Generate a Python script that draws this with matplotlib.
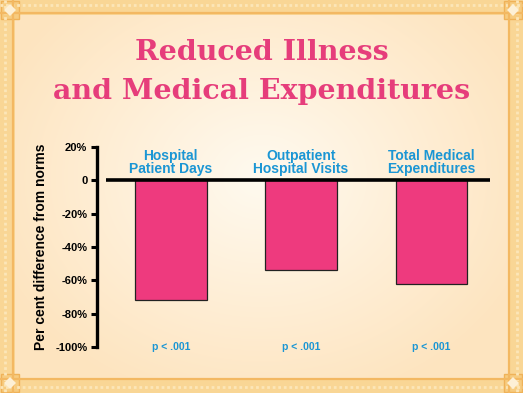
#!/usr/bin/env python3

import matplotlib.pyplot as plt
import numpy as np
from matplotlib.patches import Rectangle

# Data
categories = ["Hospital\nPatient Days", "Outpatient\nHospital Visits", "Total Medical\nExpenditures"]
values = [-72, -54, -62]
p_labels = ["p < .001", "p < .001", "p < .001"]
yticks = [20, 0, -20, -40, -60, -80, -100]
ytick_labels = ["20%", "0", "-20%", "-40%", "-60%", "-80%", "-100%"]

pink = "#ee3a7e"
blue = "#1b96d4"
W, H = 523, 393

fig = plt.figure(figsize=(W / 100, H / 100), dpi=100)

# Background: peach gradient with an orange decorative frame
bg = fig.add_axes([0, 0, 1, 1], zorder=-10)
yy, xx = np.mgrid[0:H, 0:W]
d = np.sqrt(((xx - W * 0.5) / (W * 0.55)) ** 2 + ((yy - H * 0.45) / (H * 0.6)) ** 2)
d = np.clip(d, 0, 1)
c_in = np.array([1.0, 0.98, 0.94])
c_out = np.array([0.995, 0.895, 0.75])
img = c_in[None, None, :] * (1 - d[..., None]) + c_out[None, None, :] * d[..., None]
bg.imshow(img, extent=[0, W, H, 0], aspect="auto")
bg.set_xlim(0, W)
bg.set_ylim(H, 0)
bg.axis("off")

# frame bands
band = "#f9d695"
for r in [(0, 0, W, 15), (0, H - 15, W, 15), (0, 0, 15, H), (W - 15, 0, 15, H)]:
    bg.add_patch(Rectangle((r[0], r[1]), r[2], r[3], color=band, lw=0))
# dotted inner pattern
for pos in [5, H - 6]:
    bg.plot([0, W], [pos, pos], color="#fce6b8", lw=2.0, ls=(0, (1, 1)))
for pos in [5, W - 6]:
    bg.plot([pos, pos], [0, H], color="#fce6b8", lw=2.0, ls=(0, (1, 1)))
for pos in [13, H - 14]:
    bg.plot([0, W], [pos, pos], color="#f3b862", lw=1.6)
for pos in [13, W - 14]:
    bg.plot([pos, pos], [0, H], color="#f3b862", lw=1.6)
# corner tiles
for cx, cy in [(0, 0), (W - 20, 0), (0, H - 20), (W - 20, H - 20)]:
    bg.add_patch(Rectangle((cx + 1, cy + 1), 18, 18, facecolor="#f7cc80",
                           edgecolor="#efb258", lw=1))
    bg.plot(cx + 10, cy + 10, marker="D", ms=6, color="#fdf0d6", mew=0)

# Title
fig.text(0.5, 0.867, "Reduced Illness", ha="center", va="center", color="#e63d7b",
         fontsize=20.5, fontweight="bold", family="DejaVu Serif")
fig.text(0.5, 0.767, "and Medical Expenditures", ha="center", va="center", color="#e63d7b",
         fontsize=20.5, fontweight="bold", family="DejaVu Serif")

# Chart
ax = fig.add_axes([97 / W, 0.117, 1 - 97 / W - 33 / W, 0.509])
ax.patch.set_alpha(0)
x = np.arange(len(values))
ax.bar(x, values, width=0.55, color=pink, edgecolor="#222222", linewidth=0.9, zorder=2)
ax.plot([-0.5, 2.45], [0, 0], color="black", lw=2.6, zorder=3, solid_capstyle="butt")

ax.set_xlim(-0.567, 2.45)
ax.set_ylim(-100, 20)
for s in ["top", "right", "bottom"]:
    ax.spines[s].set_visible(False)
ax.spines["left"].set_linewidth(2.4)
ax.set_xticks([])
ax.set_yticks(yticks)
ax.set_yticklabels(ytick_labels, family="Liberation Sans", fontweight="bold", fontsize=8)
ax.tick_params(axis="y", length=4, width=2.2, pad=3)
ax.set_ylabel("Per cent difference from norms", family="Liberation Sans",
              fontweight="bold", fontsize=10, labelpad=5)

for xi, cat, p in zip(x, categories, p_labels):
    ax.text(xi, 2.5, cat, ha="center", va="bottom", color=blue, family="Liberation Sans",
            fontweight="bold", fontsize=10, linespacing=0.92)
    ax.text(xi, -100, p, ha="center", va="center", color=blue, family="Liberation Sans",
            fontweight="bold", fontsize=7.5)

fig.savefig("out.png", dpi=100)
